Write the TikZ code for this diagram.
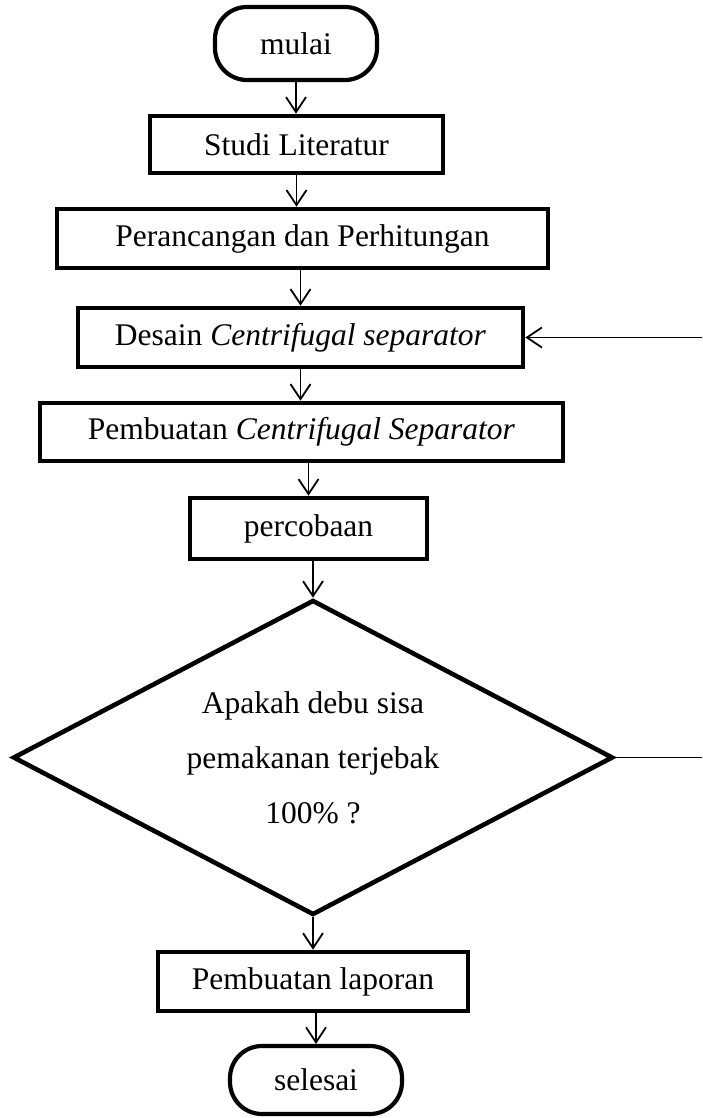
\documentclass[tikz,border=0pt]{standalone}
\usepackage{fontspec}
\setmainfont{Liberation Serif}
\usetikzlibrary{arrows.meta, shapes.geometric}

\begin{document}
\begin{tikzpicture}[x=0.5pt, y=-0.5pt, >={Straight Barb[length=7.5pt, width=10pt]},
  font=\fontsize{15.75}{27.5}\selectfont, every node/.style={inner sep=0pt},
  terminal/.style={draw, line width=2.1pt, rounded corners=16pt},
  process/.style={draw, line width=2.3pt},
  decision/.style={draw, diamond, aspect=1.9, line width=2.3pt, align=center},
  flow/.style={->, line width=0.9pt}]
\useasboundingbox (0,0) rectangle (702,1118);
\node[terminal, minimum width=81pt, minimum height=36.5pt] (mulai) at (296,43.5) {mulai};
\node[process, minimum width=146.5pt, minimum height=28.5pt] (studi) at (296.5,144.5) {Studi Literatur};
\node[process, minimum width=245.5pt, minimum height=29.5pt] (perancangan) at (302.5,238.5) {Perancangan dan Perhitungan};
\node[process, minimum width=222.5pt, minimum height=29.5pt] (desain) at (300.5,337.5) {Desain \textit{Centrifugal separator}};
\node[process, minimum width=261.5pt, minimum height=29pt] (pembuatan) at (301.5,432) {Pembuatan \textit{Centrifugal Separator}};
\node[process, minimum width=118.5pt, minimum height=30.5pt] (percobaan) at (308.5,528.5) {percobaan};
\node[decision, minimum width=300pt, minimum height=157.5pt] (keputusan) at (313,757.5) {Apakah debu sisa\\pemakanan terjebak\\100\% ?};
\node[process, minimum width=155pt, minimum height=29.5pt] (laporan) at (313,981.5) {Pembuatan laporan};
\node[terminal, minimum width=86pt, minimum height=34pt] (selesai) at (316,1080) {selesai};
\coordinate (balik1) at (702,757.5);
\coordinate (balik2) at (702,337.5);
\draw[flow] (mulai.south) -- (mulai.south |- studi.north);
\draw[flow] (studi.south) -- (studi.south |- perancangan.north);
\draw[flow] (perancangan.south -| desain.north) -- (desain.north);
\draw[flow] (desain.south) -- (desain.south |- pembuatan.north);
\draw[flow] (pembuatan.south -| percobaan.north) -- (percobaan.north);
\draw[flow] (percobaan.south -| keputusan.north) -- (keputusan.north);
\draw[flow] (keputusan.south) -- (keputusan.south |- laporan.north);
\draw[flow] (laporan.south -| selesai.north) -- (selesai.north);
\draw[line width=0.9pt] (keputusan.east) -- (balik1);
\draw[flow] (balik2) -- (desain.east);
\end{tikzpicture}
\end{document}
